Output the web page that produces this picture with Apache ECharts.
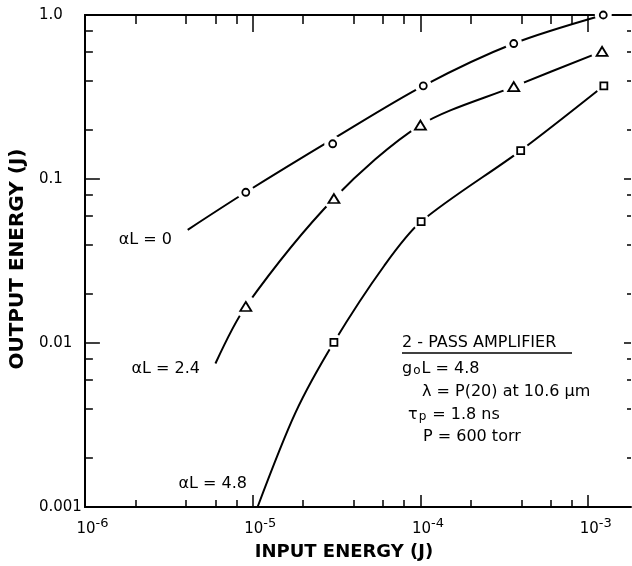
<!DOCTYPE html>
<html>
<head>
<meta charset="utf-8">
<script src="https://cdn.jsdelivr.net/npm/echarts@6/dist/echarts.min.js"></script>
<style>
    html, body { margin: 0; padding: 0; background: #fff; }
    #main { width: 632px; height: 566px; }
</style>
</head>
<body>
<div id="main"></div>
<script>
// 坐标刻度
var xMajor = [1e-6, 1e-5, 1e-4, 1e-3];
var xMinor = [2e-6, 4e-6, 6e-6, 8e-6, 2e-5, 4e-5, 6e-5, 8e-5, 2e-4, 4e-4, 6e-4, 8e-4];
var yMajor = [0.001, 0.01, 0.1, 1];
var yMinor = [0.002, 0.004, 0.006, 0.008, 0.02, 0.04, 0.06, 0.08, 0.2, 0.4, 0.6, 0.8];
var yLabels = ['0.001', '0.01', '0.1', '1.0'];

// 曲线 (input J, output J)
var curveA0 = [[4.1e-6, 0.049], [9.1e-6, 0.083], [3e-5, 0.175], [1.04e-4, 0.37], [3.6e-4, 0.67], [1.23e-3, 1.0]];
var curveA24 = [[6.0e-6, 0.0075], [9.1e-6, 0.0167], [3.05e-5, 0.076], [1.0e-4, 0.213], [3.6e-4, 0.366], [1.21e-3, 0.60]];
var curveA48 = [[1.07e-5, 0.001], [1.8e-5, 0.00376], [3.05e-5, 0.0101], [6.1e-5, 0.0297], [1.01e-4, 0.055], [3.96e-4, 0.149], [1.24e-3, 0.37]];

// 测量点
var circles = [[9.1e-6, 0.083], [3.0e-5, 0.164], [1.04e-4, 0.37], [3.6e-4, 0.67], [1.23e-3, 1.0]];
var triangles = [[9.1e-6, 0.0167], [3.05e-5, 0.076], [1.0e-4, 0.213], [3.6e-4, 0.366], [1.21e-3, 0.60]];
var squares = [[3.05e-5, 0.0101], [1.01e-4, 0.055], [3.96e-4, 0.149], [1.24e-3, 0.37]];

(function () {
    var chart = echarts.init(document.getElementById('main'));
    var font = 'DejaVu Sans';
    var xMin = 1e-6, xMax = 1.8e-3, yMin = 0.001, yMax = 1;

    function xAxis(position, ticks, len, lineShow, labelShow) {
        return {
            type: 'log',
            logBase: 10,
            position: position,
            min: xMin,
            max: xMax,
            axisLine: { show: lineShow, onZero: false, lineStyle: { color: '#000', width: 2 } },
            axisTick: { show: true, inside: true, length: len, customValues: ticks, lineStyle: { color: '#000', width: 1.5 } },
            axisLabel: {
                show: labelShow,
                customValues: xMajor,
                margin: 10,
                align: 'center',
                formatter: function (v) {
                    return '{s|}{b|10}{e|' + Math.round(Math.log10(v)) + '}';
                },
                rich: {
                    s: { width: 15 },
                    b: { fontSize: 15, fontFamily: font, color: '#000', verticalAlign: 'bottom' },
                    e: { fontSize: 13, fontFamily: font, color: '#000', verticalAlign: 'bottom', padding: [0, 0, 7, 0] }
                }
            },
            splitLine: { show: false },
            minorTick: { show: false }
        };
    }

    function yAxis(position, ticks, len, lineShow, labelShow) {
        return {
            type: 'log',
            logBase: 10,
            position: position,
            min: yMin,
            max: yMax,
            axisLine: { show: lineShow, onZero: false, lineStyle: { color: '#000', width: 2 } },
            axisTick: { show: true, inside: true, length: len, customValues: ticks, lineStyle: { color: '#000', width: 1.5 } },
            axisLabel: {
                show: labelShow,
                customValues: yMajor,
                margin: 46,
                align: 'left',
                color: '#000',
                fontSize: 15,
                fontFamily: font,
                formatter: function (v) {
                    for (var i = 0; i < yMajor.length; i++) {
                        if (Math.abs(Math.log10(v) - Math.log10(yMajor[i])) < 1e-6) return yLabels[i];
                    }
                    return '';
                }
            },
            splitLine: { show: false },
            minorTick: { show: false }
        };
    }

    var xAxes = [
        xAxis('bottom', xMajor, 12, true, true),
        xAxis('bottom', xMinor, 7, false, false),
        xAxis('top', xMajor, 17, true, false),
        xAxis('top', xMinor, 9, false, false)
    ];
    xAxes[0].name = 'INPUT ENERGY (J)';
    xAxes[0].nameLocation = 'middle';
    xAxes[0].nameGap = 36;
    xAxes[0].nameTextStyle = { color: '#000', fontSize: 18, fontWeight: 'bold', fontFamily: font, padding: [0, 28, 0, 0] };

    var yAxes = [
        yAxis('left', yMajor, 15, true, true),
        yAxis('left', yMinor, 8, false, false),
        yAxis('right', yMajor, 7, false, false),
        yAxis('right', yMinor, 4, false, false)
    ];
    yAxes[0].name = 'OUTPUT ENERGY (J)';
    yAxes[0].nameLocation = 'middle';
    yAxes[0].nameGap = 55;
    yAxes[0].nameRotate = 90;
    yAxes[0].nameTextStyle = { color: '#000', fontSize: 20, fontWeight: 'bold', fontFamily: font, padding: [0, 0, 0, 4] };

    function curve(data) {
        return {
            type: 'line', data: data, smooth: 0.3, symbol: 'none', silent: true, z: 2,
            lineStyle: { color: '#000', width: 2 }
        };
    }
    // 点周围留白
    function halo(data, size) {
        return {
            type: 'scatter', data: data, symbol: 'circle', symbolSize: size, silent: true, z: 3,
            itemStyle: { color: '#fff', opacity: 1 }
        };
    }
    function marks(data, symbol, size) {
        return {
            type: 'scatter', data: data, symbol: symbol, symbolSize: size, silent: true, z: 4,
            itemStyle: { color: '#fff', borderColor: '#000', borderWidth: 1.8, opacity: 1 }
        };
    }

    function label(text, x, y, align) {
        return {
            type: 'text', x: x, y: y, z: 10,
            style: {
                text: text, fill: '#000', font: '16px "DejaVu Sans"',
                textAlign: align, align: align, textVerticalAlign: 'middle', verticalAlign: 'middle'
            }
        };
    }
    var subRich = {
        a: { fontSize: 16, fontFamily: font, color: '#000', verticalAlign: 'bottom' },
        s: { fontSize: 12, fontFamily: font, color: '#000', verticalAlign: 'bottom', padding: [0, 1, 0, 1] }
    };
    function richLabel(text, x, y) {
        return {
            type: 'text', x: x, y: y, z: 10,
            style: { text: text, rich: subRich, align: 'left', textAlign: 'left', verticalAlign: 'middle', textVerticalAlign: 'middle' }
        };
    }

    var option = {
        animation: false,
        backgroundColor: '#fff',
        grid: { left: 81, right: 1, top: 15, bottom: 50, containLabel: false },
        xAxis: xAxes,
        yAxis: yAxes,
        series: [
            curve(curveA0),
            curve(curveA24),
            curve(curveA48),
            halo(circles, 17),
            halo(triangles, 22),
            halo(squares, 17),
            marks(circles, 'circle', 7),
            marks(triangles, 'triangle', [11, 9]),
            marks(squares, 'rect', 7)
        ],
        graphic: [
            label('αL = 0', 172, 240, 'right'),
            label('αL = 2.4', 200, 369, 'right'),
            label('αL = 4.8', 247, 484, 'right'),
            label('2 - PASS AMPLIFIER', 402, 343, 'left'),
            { type: 'line', z: 10, shape: { x1: 402, y1: 353, x2: 572, y2: 353 }, style: { stroke: '#000', lineWidth: 1.5 } },
            richLabel('{a|g}{s|o}{a|L = 4.8}', 402, 369),
            label('λ = P(20) at 10.6 μm', 422, 392, 'left'),
            richLabel('{a|τ}{s|p}{a| = 1.8 ns}', 408, 415),
            label('P = 600 torr', 423, 437, 'left')
        ]
    };
    chart.setOption(option);
})();
</script>
</body>
</html>
